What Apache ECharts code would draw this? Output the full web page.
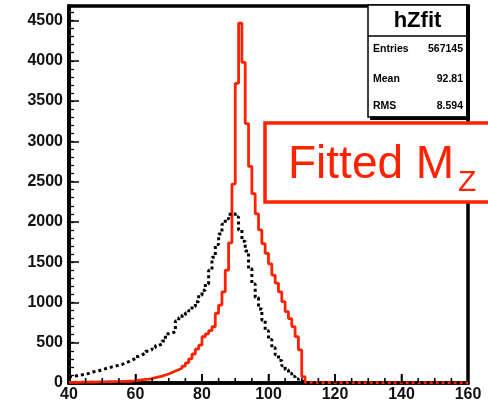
<!DOCTYPE html>
<html>
<head>
<meta charset="utf-8">
<script src="https://cdn.jsdelivr.net/npm/echarts@6/dist/echarts.min.js"></script>
<style>
  html, body { margin: 0; padding: 0; background: #fff; }
  #chart { width: 488px; height: 405px; }
</style>
</head>
<body>
<div id="chart"></div>
<script>
// Histogram binning: 120 bins of width 1 from 40 to 160
const binLow = 40;
const binWidth = 1;

// hZfit (solid red): counts per bin
const fittedCounts = [
  8, 10, 9, 11, 12, 10, 13, 12, 14, 15, 14, 16, 17, 16, 18, 20, 19, 22, 24, 26,
  35, 40, 44, 48, 55, 66, 75, 85, 99, 112, 130, 148, 165, 185, 210, 250, 300, 360, 420,
  470, 574, 610, 650, 698, 866, 967, 1132, 1401, 1740, 2470, 3720, 4466,
  3980, 3220, 2690, 2350, 2100, 1900, 1730, 1610, 1480, 1340, 1240, 1130, 1010, 885, 800, 700, 575, 410, 80,
  9, 7, 8, 6, 7, 5, 6, 6, 5, 7, 4, 6, 5, 5, 4, 6, 5, 4, 5, 3, 4, 5, 4, 3, 4,
  4, 3, 5, 3, 4, 3, 3, 4, 2, 3, 3, 4, 2, 3, 3, 2, 3, 2, 3, 2, 2, 3, 2, 2
];

// reference mass distribution (dotted black): counts per bin
const rawCounts = [
  80, 88, 95, 102, 110, 120, 135, 142, 152, 165, 178, 190, 200, 210, 220, 230, 250, 265, 285, 305,
  330, 350, 370, 395, 415, 440, 465, 485, 520, 610, 620, 635, 770, 810, 845, 870, 900, 950, 1010, 1090,
  1150, 1230, 1400, 1560, 1720, 1850, 1970, 2040, 2095, 2105, 2060, 1900,
  1760, 1640, 1420, 1230, 1060, 920, 780, 650, 540, 440, 350, 280, 215, 165, 120, 80, 50, 25, 8,
  4, 3, 3, 4, 2, 3, 3, 2, 3, 2, 3, 3, 2, 2, 3, 2, 3, 2, 2, 3, 2, 2, 3, 2, 2,
  2, 3, 2, 2, 2, 3, 2, 2, 2, 2, 3, 2, 2, 2, 2, 2, 3, 2, 2, 2, 2, 2, 2, 2
];

// axis ranges
const xMin = 40, xMax = 160, xStep = 20;
const yMin = 0, yMax = 4680, yStep = 500, yMinorStep = 100;

// x tick positions along the mass axis
const xMajorTicks = [60, 80, 100, 120, 140];
const xMinorTicks = [45, 50, 55, 65, 70, 75, 85, 90, 95, 105, 110, 115, 125, 130, 135, 145, 150, 155];

// statistics box
const statsTitle = 'hZfit';
const statsRows = [
  ['Entries', '567145'],
  ['Mean', '92.81'],
  ['RMS', '8.594']
];

const RED = '#ff2200';
const LABEL_FONT = 'Liberation Sans, Arial, sans-serif';

// bin edges -> step outline points (last bin closed at the upper edge)
function toSteps(counts) {
  const pts = counts.map((v, i) => [binLow + i * binWidth, v]);
  pts.push([binLow + counts.length * binWidth, counts[counts.length - 1]]);
  return pts;
}

const chart = echarts.init(document.getElementById('chart'), null, { renderer: 'canvas' });

const statsGraphics = [];
// box body
statsGraphics.push({
  type: 'rect', z: 100,
  shape: { x: 368, y: 5, width: 99, height: 112 },
  style: { fill: '#fff', stroke: '#000', lineWidth: 1.5 }
});
// shadow along right and bottom
statsGraphics.push({
  type: 'rect', z: 101,
  shape: { x: 466, y: 5, width: 4, height: 115 },
  style: { fill: '#000' }
});
statsGraphics.push({
  type: 'rect', z: 101,
  shape: { x: 370, y: 116.5, width: 100, height: 3.5 },
  style: { fill: '#000' }
});
// title separator
statsGraphics.push({
  type: 'line', z: 101,
  shape: { x1: 368, y1: 36, x2: 467, y2: 36 },
  style: { stroke: '#000', lineWidth: 1.5 }
});
statsGraphics.push({
  type: 'text', z: 102,
  x: 417.5, y: 21,
  style: { text: statsTitle, fill: '#000', font: 'bold 22px ' + LABEL_FONT, align: 'center', verticalAlign: 'middle' }
});
const rowY = [49, 79, 106];
statsRows.forEach((row, i) => {
  statsGraphics.push({
    type: 'text', z: 102, x: 373, y: rowY[i],
    style: { text: row[0], fill: '#000', font: 'bold 10.5px ' + LABEL_FONT, align: 'left', verticalAlign: 'middle' }
  });
  statsGraphics.push({
    type: 'text', z: 102, x: 463, y: rowY[i],
    style: { text: row[1], fill: '#000', font: 'bold 10.5px ' + LABEL_FONT, align: 'right', verticalAlign: 'middle' }
  });
});

// caption box
const captionGraphics = [
  {
    type: 'rect', z: 110,
    shape: { x: 265, y: 123, width: 240, height: 79 },
    style: { fill: '#fff', stroke: RED, lineWidth: 3.5 }
  },
  {
    type: 'text', z: 111, x: 288, y: 165,
    style: { text: 'Fitted M', fill: RED, font: '46px ' + LABEL_FONT, align: 'left', verticalAlign: 'middle' }
  },
  {
    type: 'text', z: 111, x: 458, y: 183,
    style: { text: 'Z', fill: RED, font: '30px ' + LABEL_FONT, align: 'left', verticalAlign: 'middle' }
  }
];

const frameLine = { show: true, onZero: false, lineStyle: { color: '#000', width: 3.5 } };

const option = {
  animation: false,
  backgroundColor: '#fff',
  grid: {
    left: 69, right: 20, top: 6, bottom: 22,
    show: true, borderColor: '#000', borderWidth: 3.5, backgroundColor: 'transparent'
  },
  xAxis: {
    type: 'value', min: xMin, max: xMax, interval: xStep, position: 'bottom',
    axisLine: frameLine,
    splitLine: { show: false },
    axisTick: { show: true, inside: true, length: 9, lineStyle: { color: '#000', width: 1.5 } },
    axisLabel: { margin: 4, color: '#111', fontFamily: LABEL_FONT, fontWeight: 'bold', fontSize: 16 }
  },
  yAxis: [
    {
      type: 'value', min: yMin, max: yMax, interval: yStep, position: 'left',
      axisLine: frameLine,
      splitLine: { show: false },
      axisTick: { show: true, inside: true, length: 10, lineStyle: { color: '#000', width: 1.5 } },
      axisLabel: {
        margin: 6, showMaxLabel: false, color: '#111',
        fontFamily: LABEL_FONT, fontWeight: 'bold', fontSize: 16,
        formatter: (v) => String(v)
      }
    },
    {
      type: 'value', min: yMin, max: yMax, interval: yMinorStep, position: 'left',
      axisLine: frameLine,
      splitLine: { show: false },
      axisTick: { show: true, inside: true, length: 5, lineStyle: { color: '#000', width: 1.3 } },
      axisLabel: { show: false }
    }
  ],
  series: [
    {
      name: 'hZfit', type: 'line', step: 'end', yAxisIndex: 0,
      data: toSteps(fittedCounts), symbol: 'none', silent: true, z: 3,
      lineStyle: { color: RED, width: 2.8 }
    },
    {
      name: 'raw', type: 'line', step: 'end', yAxisIndex: 0,
      data: toSteps(rawCounts), symbol: 'none', silent: true, z: 4,
      lineStyle: { color: '#000', width: 3, type: [3, 3] }
    }
  ],
  graphic: statsGraphics.concat(captionGraphics)
};

chart.setOption(option);

// tick marks standing up from the mass axis, placed through the axis scale
function tickMark(v, len) {
  const p = chart.convertToPixel({ xAxisIndex: 0, yAxisIndex: 0 }, [v, yMin]);
  return {
    type: 'rect', z: 90, silent: true,
    shape: { x: p[0] - 0.8, y: p[1] - len, width: 1.6, height: len },
    style: { fill: '#000' }
  };
}
const tickGraphics = xMajorTicks.map((v) => tickMark(v, 9))
  .concat(xMinorTicks.map((v) => tickMark(v, 5)));

chart.setOption({ graphic: statsGraphics.concat(captionGraphics, tickGraphics) });
</script>
</body>
</html>
